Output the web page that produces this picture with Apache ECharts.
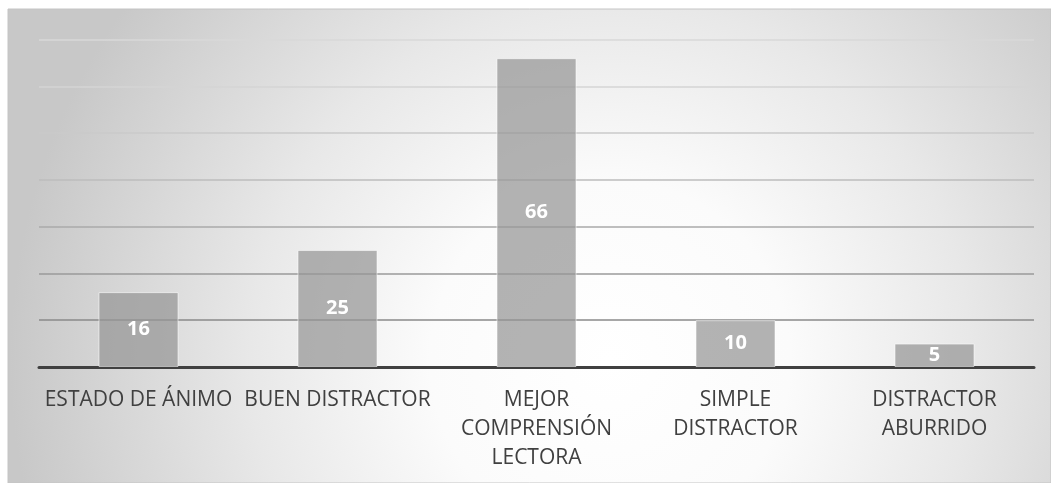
<!DOCTYPE html>
<html>
<head>
<meta charset="utf-8">
<script src="https://cdn.jsdelivr.net/npm/echarts@6/dist/echarts.min.js"></script>
<style>
html,body{margin:0;padding:0;background:#fff;}
#c{width:1051px;height:483px;}
</style>
</head>
<body>
<div id="c"></div>
<script>
const categories = ['ESTADO DE ÁNIMO', 'BUEN DISTRACTOR', 'MEJOR\nCOMPRENSIÓN\nLECTORA', 'SIMPLE\nDISTRACTOR', 'DISTRACTOR\nABURRIDO'];
const values = [16, 25, 66, 10, 5];
const yMin = 0, yMax = 70, yStep = 10;

const chart = echarts.init(document.getElementById('c'));
chart.setOption({
  animation: false,
  backgroundColor: '#ffffff',
  graphic: [{
    type: 'rect',
    z: -10,
    silent: true,
    shape: {x: 8, y: 9, width: 1043, height: 474},
    style: {
      fill: new echarts.graphic.RadialGradient(610, 360, 600, [
        {offset: 0, color: '#ffffff'},
        {offset: 0.3, color: '#fbfbfb'},
        {offset: 0.6, color: '#e8e8e8'},
        {offset: 1, color: '#c8c8c8'}
      ], true),
      stroke: '#c4c4c4',
      lineWidth: 1
    }
  }],
  grid: {left: 39, right: 17, top: 39.5, bottom: 116, containLabel: false},
  xAxis: {
    type: 'category',
    data: categories,
    axisLine: {show: true, lineStyle: {color: '#404040', width: 3}},
    axisTick: {show: false},
    axisLabel: {
      interval: 0,
      color: '#404040',
      fontFamily: 'Open Sans',
      fontSize: 21,
      lineHeight: 29,
      margin: 19
    }
  },
  yAxis: {
    type: 'value',
    min: yMin, max: yMax, interval: yStep,
    axisLine: {show: false},
    axisTick: {show: false},
    axisLabel: {show: false},
    splitLine: {show: true, lineStyle: {width: 1.5, color: ['#404040', '#8a8a8a', '#9a9a9a', '#aaaaaa', '#bdbdbd', '#cacaca', '#d4d4d4', '#d9d9d9']}}
  },
  series: [{
    type: 'bar',
    data: values,
    barWidth: 80,
    itemStyle: {color: 'rgba(150,150,150,0.72)', borderColor: 'rgba(255,255,255,0.55)', borderWidth: 1},
    label: {
      show: true,
      position: 'inside',
      color: '#ffffff',
      fontWeight: 'bold',
      fontFamily: 'Open Sans',
      fontSize: 20
    }
  }]
});
</script>
</body>
</html>
